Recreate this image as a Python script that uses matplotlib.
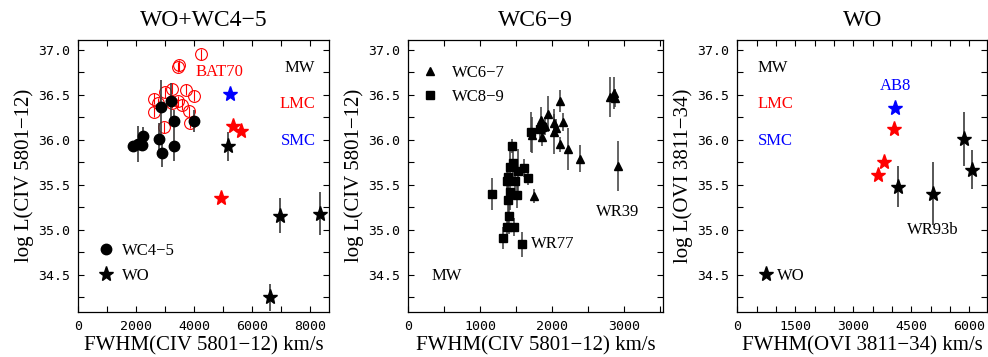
import matplotlib
matplotlib.use("Agg")
import matplotlib.pyplot as plt
from matplotlib.lines import Line2D
import numpy as np

# ---------------- data ----------------
# Panel 1: WO + WC4-5
wc45_mw_x = [1874, 2057, 2195, 2252, 2804, 2907, 2861, 3206, 3321, 3321, 4010]
wc45_mw_y = [35.93, 35.96, 35.94, 36.04, 36.01, 35.85, 36.37, 36.43, 36.21, 35.93, 36.21]
wc45_mw_e = [0.05, 0.20, 0.05, 0.10, 0.18, 0.15, 0.30, 0.20, 0.12, 0.16, 0.12]

wc4_lmc_x = [2608, 2631, 2769, 2999, 2976, 3229, 3229, 3436, 3482, 3459, 3574, 3712, 3838, 3872, 4010, 4240]
wc4_lmc_y = [36.46, 36.31, 36.41, 36.53, 36.14, 36.57, 36.41, 36.81, 36.83, 36.43, 36.39, 36.56, 36.32, 36.19, 36.49, 36.95]

wo1_smc_x = [5251]
wo1_smc_y = [36.51]
wo1_lmc_x = [5355, 5619, 4918]
wo1_lmc_y = [36.16, 36.10, 35.35]
wo1_mw_x = [5159, 6986, 8365, 6618]
wo1_mw_y = [35.93, 35.16, 35.18, 34.25]
wo1_mw_e = [0.16, 0.19, 0.24, 0.15]

# Panel 2: WC6-9 (MW)
wc67_x = [1745, 1713, 1843, 1861, 1898, 1935, 2028, 2028, 2046, 2107, 2148, 2107, 2222, 2384, 2797, 2862, 2871, 2908]
wc67_y = [35.38, 36.06, 36.22, 36.03, 36.15, 36.29, 36.19, 36.09, 36.13, 36.43, 36.20, 35.95, 35.90, 35.79, 36.48, 36.52, 36.47, 35.71]
wc67_e = [0.08, 0.20, 0.15, 0.10, 0.10, 0.20, 0.10, 0.25, 0.10, 0.12, 0.10, 0.08, 0.23, 0.15, 0.22, 0.18, 0.10, 0.28]

wc89_x = [1167, 1310, 1366, 1375, 1389, 1384, 1398, 1417, 1412, 1445, 1458, 1482, 1472, 1505, 1528, 1583, 1606, 1657, 1704, 1829, 1852]
wc89_y = [35.40, 34.91, 35.03, 35.54, 35.59, 35.33, 35.15, 35.42, 35.70, 35.93, 35.74, 35.54, 35.03, 35.39, 35.65, 34.84, 35.69, 35.58, 36.09, 36.12, 36.14]
wc89_e = [0.18, 0.12, 0.10, 0.20, 0.15, 0.25, 0.20, 0.20, 0.20, 0.08, 0.20, 0.20, 0.10, 0.15, 0.25, 0.14, 0.10, 0.08, 0.22, 0.10, 0.10]

# Panel 3: WO, OVI
wo3_smc_x = [4085]
wo3_smc_y = [36.36]
wo3_lmc_x = [4051, 3794, 3649]
wo3_lmc_y = [36.12, 35.76, 35.61]
wo3_mw_x = [4155, 5054, 5851, 6065]
wo3_mw_y = [35.48, 35.40, 36.01, 35.67]
wo3_mw_e = [0.23, 0.35, 0.30, 0.22]

titles = ["WO+WC4\u22125", "WC6\u22129", "WO"]
xlabels = ["FWHM(CIV 5801\u221212) km/s", "FWHM(CIV 5801\u221212) km/s", "FWHM(OVI 3811\u221234) km/s"]
ylabels = ["log L(CIV 5801\u221212)", "log L(CIV 5801\u221212)", "log L(OVI 3811\u221234)"]

# ---------------- figure ----------------
W, H = 988, 357
fig = plt.figure(figsize=(W / 100, H / 100), dpi=100)

SERIF = ["Liberation Serif", "DejaVu Serif"]
MONO = "DejaVu Sans Mono"
TFS = 9.5    # tick font
LFS = 15     # axis label font
AFS = 12     # annotation font

boxes = [(78.4, 329.3), (408.3, 663.0), (737.4, 987.0)]
top_px, bot_px = 40, 311.7
ylim = (34.092, 37.111)
xlims = [(0, 8680), (0, 3537), (0, 6455)]

axes = []
for i, (l, r) in enumerate(boxes):
    ax = fig.add_axes([l / W, 1 - bot_px / H, (r - l) / W, (bot_px - top_px) / H])
    ax.set_xlim(*xlims[i])
    ax.set_ylim(*ylim)
    ax.tick_params(which="both", direction="in", top=True, right=True, length=4, width=0.8,
                   labelsize=TFS, pad=6)
    ax.tick_params(which="minor", length=4)
    ax.set_yticks([34.5, 35.0, 35.5, 36.0, 36.5, 37.0])
    ax.set_yticks(np.arange(34.25, 37.01, 0.25), minor=True)
    ax.set_yticklabels(["34.5", "35.0", "35.5", "36.0", "36.5", "37.0"])
    for s in ax.spines.values():
        s.set_linewidth(0.9)
    ax.set_title(titles[i], family=SERIF, fontsize=17, pad=10)
    ax.set_xlabel(xlabels[i], family=SERIF, fontsize=LFS, labelpad=2)
    ax.set_ylabel(ylabels[i], family=SERIF, fontsize=LFS, labelpad=3)
    axes.append(ax)

ax1, ax2, ax3 = axes
ax1.set_xticks([0, 2000, 4000, 6000, 8000])
ax1.set_xticks(np.arange(0, 8700, 1000), minor=True)
ax2.set_xticks([0, 1000, 2000, 3000])
ax2.set_xticks(np.arange(0, 3600, 500), minor=True)
ax3.set_xticks([0, 1500, 3000, 4500, 6000])
ax3.set_xticks(np.arange(0, 6500, 500), minor=True)
for ax in axes:
    for t in ax.get_xticklabels() + ax.get_yticklabels():
        t.set_family(MONO)

ECOL = "#3a3a3a"
STAR_MS = 11

# ---- Panel 1 ----
ax1.errorbar(wc4_lmc_x, wc4_lmc_y, yerr=0.06, fmt="o", ms=8.5, mfc="none", mec="red",
             mew=0.8, ecolor="red", elinewidth=0.8, capsize=0, zorder=3)
ax1.errorbar(wc45_mw_x, wc45_mw_y, yerr=wc45_mw_e, fmt="o", ms=7.5, color="black",
             ecolor=ECOL, elinewidth=1.2, capsize=0, zorder=4)
ax1.errorbar(wo1_mw_x, wo1_mw_y, yerr=wo1_mw_e, fmt="*", ms=STAR_MS, color="black",
             ecolor=ECOL, elinewidth=1.2, capsize=0, zorder=4)
ax1.plot(wo1_lmc_x, wo1_lmc_y, "*", ms=STAR_MS, color="red", zorder=4)
ax1.plot(wo1_smc_x, wo1_smc_y, "*", ms=STAR_MS, color="blue", zorder=4)
ax1.text(4865, 36.76, "BAT70", color="red", family=SERIF, fontsize=AFS, ha="center", va="center")
ax1.text(8190, 36.80, "MW", color="black", family=SERIF, fontsize=AFS, ha="right", va="center")
ax1.text(8200, 36.40, "LMC", color="red", family=SERIF, fontsize=AFS, ha="right", va="center")
ax1.text(8200, 35.99, "SMC", color="blue", family=SERIF, fontsize=AFS, ha="right", va="center")
h1 = [Line2D([], [], marker="o", ls="none", color="black", ms=7.5),
      Line2D([], [], marker="*", ls="none", color="black", ms=STAR_MS)]
ax1.legend(h1, ["WC4\u22125", "WO"], loc="lower left", bbox_to_anchor=(0.03, 0.06),
           frameon=False, prop={"family": SERIF, "size": AFS}, handlelength=1.0,
           handletextpad=0.45, labelspacing=0.55, borderpad=0.2)

# ---- Panel 2 ----
ax2.errorbar(wc89_x, wc89_y, yerr=wc89_e, fmt="s", ms=5.5, color="black",
             ecolor=ECOL, elinewidth=1.1, capsize=0, zorder=4)
ax2.errorbar(wc67_x, wc67_y, yerr=wc67_e, fmt="^", ms=6, color="black",
             ecolor=ECOL, elinewidth=1.1, capsize=0, zorder=4)
ax2.text(2908, 35.20, "WR39", family=SERIF, fontsize=AFS, ha="center", va="center")
ax2.text(1704, 34.84, "WR77", family=SERIF, fontsize=AFS, ha="left", va="center")
ax2.text(325, 34.49, "MW", family=SERIF, fontsize=AFS, ha="left", va="center")
h2 = [Line2D([], [], marker="^", ls="none", color="black", ms=6),
      Line2D([], [], marker="s", ls="none", color="black", ms=5.5)]
ax2.legend(h2, ["WC6\u22127", "WC8\u22129"], loc="upper left", bbox_to_anchor=(0.0, 0.95),
           frameon=False, prop={"family": SERIF, "size": AFS}, handlelength=1.2,
           handletextpad=0.7, labelspacing=0.45, borderpad=0.2)

# ---- Panel 3 ----
ax3.errorbar(wo3_mw_x, wo3_mw_y, yerr=wo3_mw_e, fmt="*", ms=STAR_MS, color="black",
             ecolor=ECOL, elinewidth=1.2, capsize=0, zorder=4)
ax3.plot(wo3_lmc_x, wo3_lmc_y, "*", ms=STAR_MS, color="red", zorder=4)
ax3.plot(wo3_smc_x, wo3_smc_y, "*", ms=STAR_MS, color="blue", zorder=4)
ax3.text(4077, 36.60, "AB8", color="blue", family=SERIF, fontsize=AFS, ha="center", va="center")
ax3.text(5054, 35.00, "WR93b", color="black", family=SERIF, fontsize=AFS, ha="center", va="center")
ax3.text(521, 36.80, "MW", color="black", family=SERIF, fontsize=AFS, ha="left", va="center")
ax3.text(521, 36.40, "LMC", color="red", family=SERIF, fontsize=AFS, ha="left", va="center")
ax3.text(521, 35.99, "SMC", color="blue", family=SERIF, fontsize=AFS, ha="left", va="center")
h3 = [Line2D([], [], marker="*", ls="none", color="black", ms=STAR_MS)]
ax3.legend(h3, ["WO"], loc="lower left", bbox_to_anchor=(0.04, 0.06),
           frameon=False, prop={"family": SERIF, "size": AFS}, handlelength=0.8,
           handletextpad=0.3, borderpad=0.2)

fig.savefig("out.png", dpi=100)
